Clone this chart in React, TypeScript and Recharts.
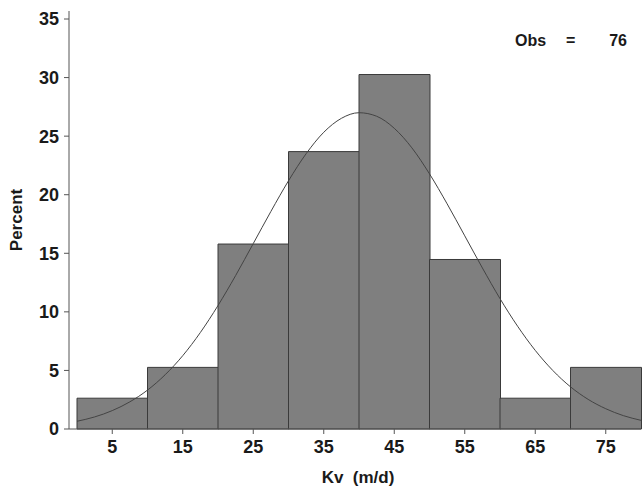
import { Bar, ComposedChart, Line, XAxis, YAxis } from "recharts";

// histogram bins (midpoints) and percent of 76 obs
const midpoints = [5, 15, 25, 35, 45, 55, 65, 75];
const percents = [2.63, 5.26, 15.79, 23.68, 30.26, 14.47, 2.63, 5.26];

// fitted normal curve
const curveX = [0, 2.5, 5, 7.5, 10, 12.5, 15, 17.5, 20, 22.5, 25, 27.5, 30, 32.5, 35, 37.5, 40, 42.5, 45, 47.5, 50, 52.5, 55, 57.5, 60, 62.5, 65, 67.5, 70, 72.5, 75, 77.5, 80];
const curveY = [0.66, 1.03, 1.57, 2.32, 3.32, 4.63, 6.26, 8.24, 10.54, 13.1, 15.83, 18.57, 21.19, 23.5, 25.33, 26.52, 27.0, 26.7, 25.67, 24.0, 21.78, 19.22, 16.49, 13.75, 11.13, 8.77, 6.71, 4.99, 3.6, 2.53, 1.73, 1.14, 0.74];

const xTicks = midpoints;
const yTicks = [0, 5, 10, 15, 20, 25, 30, 35];
const obs = 76;

const bins = midpoints.map((x, i) => ({ x, pct: percents[i] }));
const curve = curveX.map((x, i) => ({ x, y: curveY[i] }));

const font = "'Liberation Sans', Arial, sans-serif";
const tickStyle = { fill: "#1a1a1a", fontSize: 18, fontFamily: font, fontWeight: 700 };
const labelStyle = { fill: "#1a1a1a", fontSize: 17, fontFamily: font, fontWeight: 700 };

export default function App() {
  return (
    <div style={{ position: "absolute", left: 0, top: 0, background: "#fff" }}>
      <ComposedChart width={642} height={496} data={bins} barCategoryGap={0} margin={{ top: 11, right: 1, bottom: 0, left: 0 }}>
        <XAxis xAxisId="bars" dataKey="x" type="category" padding={{ left: 8, right: 0 }} height={0} hide />
        <XAxis
          xAxisId="num"
          dataKey="x"
          type="number"
          domain={[0, 80]}
          ticks={xTicks}
          padding={{ left: 8, right: 0 }}
          height={67}
          stroke="#555"
          tickSize={5}
          tick={tickStyle}
          tickMargin={6}
        />
        <XAxis xAxisId="top" orientation="top" type="number" domain={[0, 80]} height={0} tick={false} tickLine={false} stroke="#777" />
        <YAxis
          type="number"
          domain={[0, 35]}
          ticks={yTicks}
          padding={{ top: 8, bottom: 0 }}
          width={69}
          stroke="#555"
          tickSize={5}
          tick={tickStyle}
          tickMargin={5}
        />
        <Bar xAxisId="bars" dataKey="pct" fill="#7f7f7f" stroke="#3a3a3a" strokeWidth={1} isAnimationActive={false} />
        <Line xAxisId="num" data={curve} dataKey="y" type="monotone" stroke="#444" strokeWidth={1} dot={false} activeDot={false} isAnimationActive={false} />
        <text x={22} y={220} transform="rotate(-90, 22, 220)" textAnchor="middle" style={labelStyle}>
          Percent
        </text>
        <text x={358} y={483} textAnchor="middle" style={labelStyle} xmlSpace="preserve">
          {"Kv  (m/d)"}
        </text>
        <text x={515} y={46} style={{ ...labelStyle, fontSize: 16 }}>Obs</text>
        <text x={566} y={46} style={{ ...labelStyle, fontSize: 16 }}>=</text>
        <text x={627} y={46} textAnchor="end" style={{ ...labelStyle, fontSize: 16 }}>{obs}</text>
      </ComposedChart>
    </div>
  );
}
